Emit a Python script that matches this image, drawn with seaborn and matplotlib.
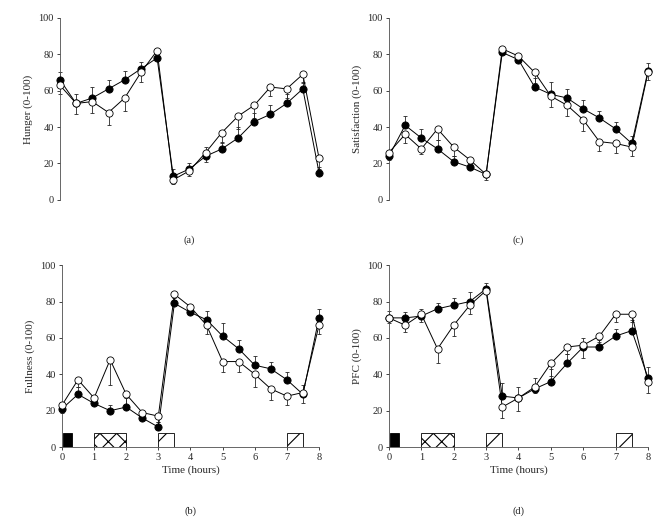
import numpy as np
import pandas as pd
import matplotlib
matplotlib.use("Agg")
import matplotlib.pyplot as plt
import seaborn as sns

# time points (hours)
hours = [0, 0.5, 1, 1.5, 2, 2.5, 3, 3.5, 4, 4.5, 5, 5.5, 6, 6.5, 7, 7.5, 8]

# (a) hunger
hunger_filled = [66, 53, 56, 61, 66, 72, 78, 13, 17, 24, 28, 34, 43, 47, 53, 61, 15]
hunger_filled_err = [4, 5, 6, 5, 5, 4, 2, 4, 3, 5, 4, 6, 5, 5, 5, 4, 3]
hunger_open = [63, 53, 54, 48, 56, 70, 82, 11, 16, 26, 37, 46, 52, 62, 61, 69, 23]
hunger_open_err = [5, 6, 6, 7, 7, 5, 2, 2, 3, 5, 6, 7, 7, 5, 5, 5, 6]

# (c) satisfaction
satis_filled = [24, 41, 34, 28, 21, 18, 14, 81, 77, 62, 58, 56, 50, 45, 39, 31, 71]
satis_filled_err = [3, 5, 5, 5, 3, 2, 2, 2, 3, 5, 7, 5, 5, 4, 4, 4, 4]
satis_open = [26, 36, 28, 39, 29, 22, 14, 83, 79, 70, 57, 52, 44, 32, 31, 29, 70]
satis_open_err = [4, 5, 3, 6, 5, 3, 3, 2, 2, 6, 6, 6, 6, 5, 5, 5, 4]

# (b) fullness
full_filled = [21, 29, 24, 20, 22, 16, 11, 79, 74, 70, 61, 54, 45, 43, 37, 29, 71]
full_filled_err = [4, 4, 3, 3, 5, 2, 3, 3, 2, 5, 7, 5, 5, 4, 4, 5, 5]
full_open = [23, 37, 27, 48, 29, 19, 17, 84, 77, 67, 47, 47, 40, 32, 28, 30, 67]
full_open_err = [4, 4, 2, 14, 7, 2, 3, 3, 3, 5, 6, 6, 7, 6, 5, 6, 5]

# (d) PFC
pfc_filled = [71, 71, 72, 76, 78, 80, 87, 28, 27, 32, 36, 46, 55, 55, 61, 64, 38]
pfc_filled_err = [4, 3, 4, 3, 4, 5, 3, 7, 6, 6, 7, 5, 5, 4, 4, 6, 6]
pfc_open = [71, 67, 73, 54, 67, 78, 86, 22, 27, 33, 46, 55, 56, 61, 73, 73, 36]
pfc_open_err = [3, 4, 4, 8, 6, 5, 2, 6, 7, 3, 7, 4, 7, 3, 4, 4, 6]

# meal markers along the bottom of (b) and (d)
meal_start = [0.03, 1, 3, 7]
meal_width = [0.27, 1, 0.5, 0.5]
meal_height = 8
meal_fill = ["black", "white", "white", "white"]
meal_hatch = ["", "xx", "/", "/"]

sns.set_style("ticks")
plt.rcParams["font.family"] = ["Liberation Serif", "DejaVu Serif"]
plt.rcParams["hatch.linewidth"] = 0.8
plt.rcParams["hatch.color"] = "black"

fig = plt.figure(figsize=(6.66, 5.26), dpi=100)

panels = [
    ("(a)", "Hunger (0-100)", hunger_filled, hunger_filled_err, hunger_open, hunger_open_err,
     [0.090, 0.620, 0.389, 0.346], False),
    ("(c)", "Satisfaction (0-100)", satis_filled, satis_filled_err, satis_open, satis_open_err,
     [0.584, 0.620, 0.389, 0.346], False),
    ("(b)", "Fullness (0-100)", full_filled, full_filled_err, full_open, full_open_err,
     [0.093, 0.150, 0.386, 0.346], True),
    ("(d)", "PFC (0-100)", pfc_filled, pfc_filled_err, pfc_open, pfc_open_err,
     [0.584, 0.150, 0.389, 0.346], True),
]

for tag, ylab, yf, ef, yo, eo, rect, bottom in panels:
    ax = fig.add_axes(rect)
    # one-sided error bars: filled group upward, open group downward
    ax.errorbar(hours, yf, yerr=[np.zeros(len(ef)), ef], fmt="none", ecolor="0.15",
                elinewidth=0.6, capsize=1.6, capthick=0.6, clip_on=False, zorder=2)
    ax.errorbar(hours, yo, yerr=[eo, np.zeros(len(eo))], fmt="none", ecolor="0.15",
                elinewidth=0.6, capsize=1.6, capthick=0.6, clip_on=False, zorder=2)
    sns.lineplot(x=hours, y=yf, ax=ax, color="black", lw=0.7, marker="o", markersize=5.2,
                 markerfacecolor="black", markeredgecolor="black", markeredgewidth=0.6,
                 clip_on=False, zorder=3)
    sns.lineplot(x=hours, y=yo, ax=ax, color="black", lw=0.7, marker="o", markersize=5.2,
                 markerfacecolor="white", markeredgecolor="black", markeredgewidth=0.6,
                 clip_on=False, zorder=4)

    ax.set_xlim(0, 8)
    ax.set_ylim(0, 100)
    ax.set_yticks([0, 20, 40, 60, 80, 100])
    ax.set_ylabel(ylab, fontsize=8)
    ax.tick_params(axis="both", labelsize=7.5, length=2.5, width=0.6, pad=2)
    ax.spines["top"].set_visible(False)
    ax.spines["right"].set_visible(False)
    ax.spines["left"].set_linewidth(0.6)
    ax.spines["left"].set_color("0.3")

    if bottom:
        bars = ax.bar(meal_start, meal_height, width=meal_width, align="edge",
                      color=meal_fill, edgecolor="black", linewidth=0.6, zorder=1)
        for patch, h in zip(bars.patches, meal_hatch):
            if h:
                patch.set_hatch(h)
        ax.set_xticks(range(9))
        ax.set_xlabel("Time (hours)", fontsize=8, labelpad=2)
        ax.spines["bottom"].set_linewidth(0.6)
        ax.spines["bottom"].set_color("0.3")
        ypos = 0.028
    else:
        ax.spines["bottom"].set_visible(False)
        ax.set_xticks([])
        ax.set_xlabel("")
        ypos = 0.544

    fig.text(rect[0] + rect[2] / 2, ypos, tag, ha="center", va="center", fontsize=7.5)

fig.savefig("out.png", dpi=100)
